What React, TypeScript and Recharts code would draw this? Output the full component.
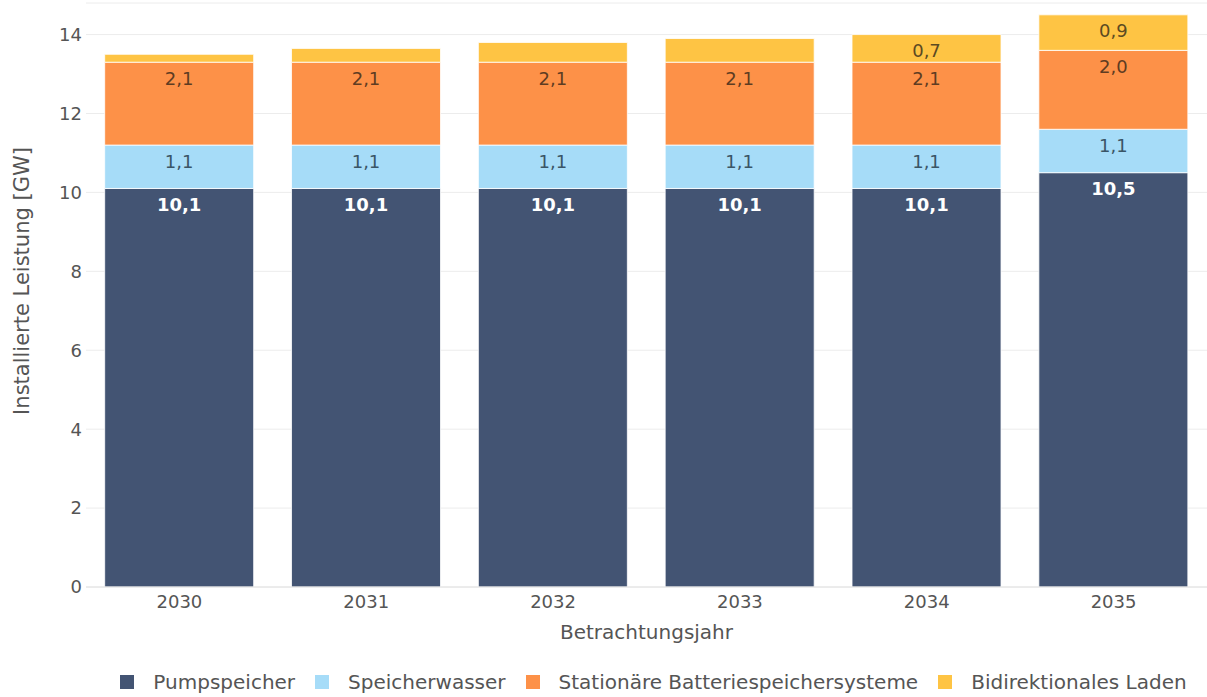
import { BarChart, Bar, XAxis, YAxis, CartesianGrid, Legend, LabelList } from 'recharts';

const years = ['2030', '2031', '2032', '2033', '2034', '2035'];
const pumpspeicher = [10.1, 10.1, 10.1, 10.1, 10.1, 10.5];
const speicherwasser = [1.1, 1.1, 1.1, 1.1, 1.1, 1.1];
const batterie = [2.1, 2.1, 2.1, 2.1, 2.1, 2.0];
const bidirektional = [0.2, 0.35, 0.5, 0.6, 0.7, 0.9];
const yTicks = [0, 2, 4, 6, 8, 10, 12, 14];

const series = [
  { key: 'pump', name: 'Pumpspeicher', color: '#435473', text: '#ffffff', bold: true },
  { key: 'wasser', name: 'Speicherwasser', color: '#a6dcf8', text: '#3a5566', bold: false },
  { key: 'batt', name: 'Stationäre Batteriespeichersysteme', color: '#fd9148', text: '#5e3c22', bold: false },
  { key: 'bidi', name: 'Bidirektionales Laden', color: '#fec444', text: '#5c4a22', bold: false },
];

const data = years.map((y, i) => ({
  year: y,
  pump: pumpspeicher[i],
  wasser: speicherwasser[i],
  batt: batterie[i],
  bidi: bidirektional[i],
}));

const FONT = '"DejaVu Sans", Verdana, sans-serif';

const fmt = (v: number) => v.toFixed(1).replace('.', ',');

function makeLabel(color: string, bold: boolean) {
  return (props: any) => {
    const { x, y, width, height, value } = props;
    if (height < 25) return null;
    return (
      <text
        x={x + width / 2}
        y={y + 16}
        textAnchor="middle"
        dominantBaseline="central"
        fill={color}
        fontSize={18}
        fontWeight={bold ? 700 : 400}
        fontFamily={FONT}
      >
        {fmt(value)}
      </text>
    );
  };
}

function LegendContent() {
  return (
    <div style={{ display: 'flex', justifyContent: 'center', alignItems: 'center', height: 30, paddingTop: 6, paddingLeft: 100, fontFamily: FONT, fontSize: 20, color: '#555' }}>
      {series.map((s) => (
        <div key={s.key} style={{ display: 'flex', alignItems: 'center', margin: '0 10px' }}>
          <span style={{ width: 14, height: 14, background: s.color, display: 'inline-block', marginRight: 19 }} />
          <span>{s.name}</span>
        </div>
      ))}
    </div>
  );
}

export default function App() {
  return (
    <div style={{ position: 'absolute', left: 0, top: 0, background: '#fff' }}>
      <BarChart width={1207} height={697} data={data} margin={{ top: 3, right: 0, left: 0, bottom: 0 }} barCategoryGap="10%">
        <CartesianGrid vertical={false} stroke="#ececec" />
        <XAxis
          dataKey="year"
          height={74}
          tickLine={false}
          axisLine={{ stroke: '#e2e2e2' }}
          tick={{ fontSize: 18, fill: '#555', fontFamily: FONT }}
          tickMargin={2}
          label={{ value: 'Betrachtungsjahr', position: 'insideBottom', offset: 22, fontSize: 20, fill: '#555', fontFamily: FONT }}
        />
        <YAxis
          width={86}
          domain={[0, 14.8]}
          ticks={yTicks}
          tickLine={false}
          axisLine={false}
          tickSize={4}
          tickMargin={0}
          tick={{ fontSize: 18, fill: '#555', fontFamily: FONT }}
          label={() => (
            <text x={22} y={281} transform="rotate(-90 22 281)" textAnchor="middle" dominantBaseline="central" fontSize={21} fill="#555" fontFamily={FONT}>
              Installierte Leistung [GW]
            </text>
          )}
        />
        <Legend verticalAlign="bottom" content={<LegendContent />} />
        {series.map((s) => (
          <Bar key={s.key} dataKey={s.key} name={s.name} stackId="a" fill={s.color} stroke="#ffffff" strokeWidth={0.8} isAnimationActive={false}>
            <LabelList dataKey={s.key} content={makeLabel(s.text, s.bold)} />
          </Bar>
        ))}
      </BarChart>
    </div>
  );
}
